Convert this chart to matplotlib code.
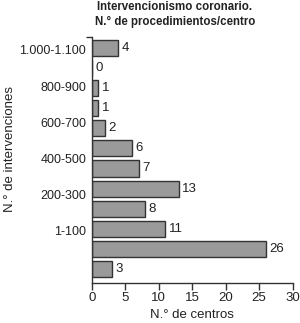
import matplotlib
matplotlib.use("Agg")
import matplotlib.pyplot as plt
import numpy as np

values = [3, 26, 11, 8, 13, 7, 6, 2, 1, 1, 0, 4]
tick_labels = ["1-100", "200-300", "400-500", "600-700", "800-900", "1.000-1.100"]
tick_pos = [1.9, 3.7, 5.5, 7.3, 9.1, 10.9]
xticks = [0, 5, 10, 15, 20, 25, 30]

plt.rcParams['font.family'] = ['Liberation Sans', 'DejaVu Sans']

fig = plt.figure(figsize=(3.0, 3.23), dpi=100)
ax = fig.add_axes([0.3057, 0.1248, 0.6693, 0.7606])

y = np.arange(len(values))
ax.barh(y, values, height=0.8, color='#9a9a9a', edgecolor='#333333', linewidth=1.0)
for yi, v in zip(y, values):
    ax.text(v + 0.5, yi, str(v), va='center', ha='left', fontsize=9.5, color='#222222')

ax.set_xlim(0, 30)
ax.set_ylim(-0.68, 11.54)
ax.set_xticks(xticks)
ax.set_xticklabels([str(t) for t in xticks], fontsize=9.5, color='#222222')
ax.set_yticks(tick_pos)
ax.set_yticklabels(tick_labels, fontsize=9, color='#222222')
ax.tick_params(axis='y', length=0, pad=4)
ax.tick_params(axis='x', length=5, width=1.0, direction='out', pad=2, color='#333333')
ax.set_yticks([11.54], minor=True)
ax.tick_params(axis='y', which='minor', length=4, width=1.0, color='#333333')

for s in ['top', 'right']:
    ax.spines[s].set_visible(False)
for s in ['left', 'bottom']:
    ax.spines[s].set_linewidth(1.0)
    ax.spines[s].set_color('#333333')

ax.set_xlabel("N.° de centros", fontsize=9.5, color='#222222', labelpad=3)
fig.text(0.035, 0.54, "N.° de intervenciones", rotation=90, fontsize=9.5,
         color='#222222', ha='center', va='center')
fig.text(0.583, 0.955, "Intervencionismo coronario.\nN.° de procedimientos/centro",
         fontsize=8.3, fontweight='bold', ha='center', va='center', color='#222222',
         linespacing=1.25)

fig.savefig("out.png", dpi=100)
